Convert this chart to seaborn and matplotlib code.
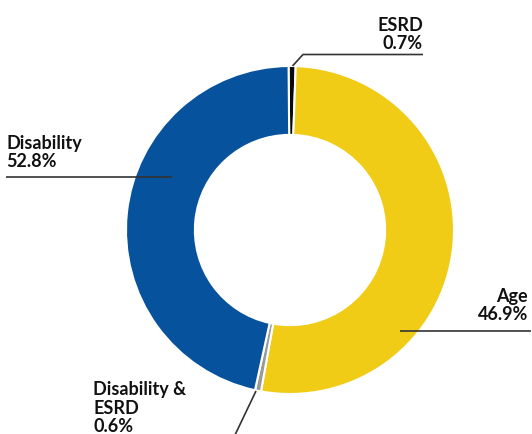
import matplotlib
matplotlib.use("Agg")
import matplotlib.pyplot as plt
import seaborn as sns

# Share of enrollees by reason for entitlement
categories = ["ESRD", "Age", "Disability &\nESRD", "Disability"]
shares = [0.7, 46.9, 0.6, 52.8]
colors = ["#0a0a0a", "#F0CC16", "#9a9a9a", "#06529C"]
# the source ring draws the yellow segment with the Disability share
# and the blue one with the Age share, so keep that order for the slices
drawn = [shares[0], shares[3], shares[2], shares[1]]

sns.set_theme(style="white")
plt.rcParams['font.family'] = ['Lato', 'DejaVu Sans']

W, H = 532, 435
fig = plt.figure(figsize=(W / 100, H / 100), dpi=100)
ax = fig.add_axes([0, 0, 1, 1])

cx, cy, r = 290, H - 231, 164
ax.pie(drawn, colors=colors, startangle=90.5, counterclock=False,
       center=(cx, cy), radius=r,
       wedgeprops=dict(width=r * 0.42, edgecolor="white", linewidth=1.5))
ax.set_xlim(0, W)
ax.set_ylim(0, H)
ax.set_aspect("equal")
ax.axis("off")

line_kw = dict(color="#333333", lw=1.2, solid_capstyle="butt")
txt_kw = dict(fontsize=13, fontweight="bold", color="#111111",
              linespacing=1.1, va="baseline")

def lab(i):
    return f"{categories[i]}\n{shares[i]:.1f}%"

# ESRD
ax.plot([292.5, 303, 423], [H - 67, H - 55.5, H - 55.5], **line_kw)
ax.text(423, H - 49, lab(0), ha="right", **txt_kw)
# Disability
ax.plot([6, 172], [H - 178, H - 178], **line_kw)
ax.text(6, H - 167, lab(3), ha="left", **txt_kw)
# Age
ax.plot([400, 531], [H - 332, H - 332], **line_kw)
ax.text(528, H - 320, lab(1), ha="right", **txt_kw)
# Disability & ESRD
ax.plot([256, 234.5], [H - 392, H - 437], **line_kw)
ax.text(93, H - 432, lab(2), ha="left", **txt_kw)

fig.savefig("out.png", dpi=100)
